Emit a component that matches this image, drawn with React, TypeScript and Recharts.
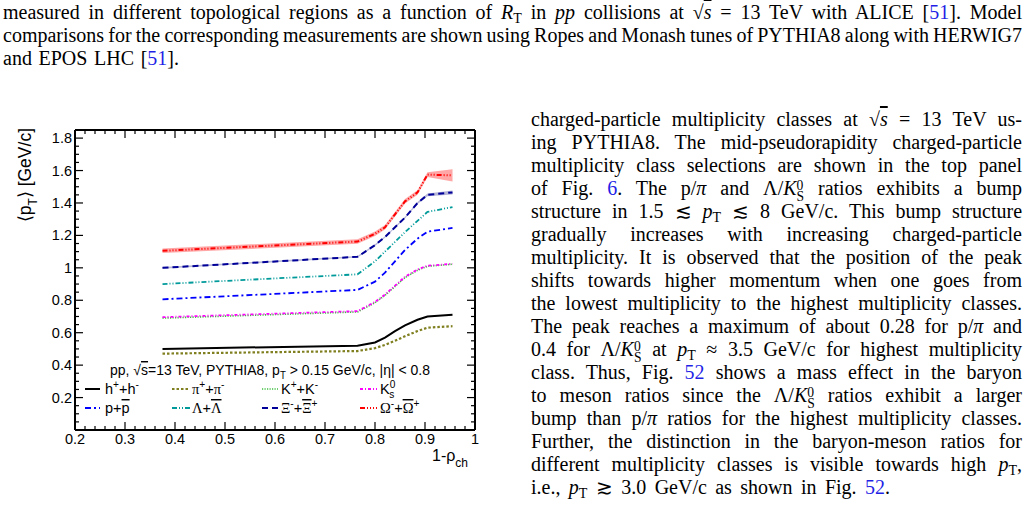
import React from 'react';
import { Area, ComposedChart, Legend, Line, XAxis, YAxis } from 'recharts';

// 1 - rho_ch for each multiplicity class point
const rho = [0.375, 0.765, 0.8, 0.82, 0.84, 0.86, 0.885, 0.905, 0.955];

// <pT> [GeV/c] for each species
const hadrons = [0.5, 0.52, 0.54, 0.57, 0.61, 0.645, 0.68, 0.7, 0.71];
const pions = [0.471, 0.487, 0.505, 0.525, 0.55, 0.578, 0.61, 0.631, 0.64];
const kaons = [0.69, 0.728, 0.785, 0.83, 0.885, 0.94, 0.985, 1.01, 1.022];
const k0s = [0.696, 0.733, 0.79, 0.835, 0.89, 0.945, 0.99, 1.013, 1.025];
const protons = [0.806, 0.864, 0.915, 0.97, 1.04, 1.11, 1.18, 1.223, 1.246];
const lambdas = [0.9, 0.96, 1.04, 1.1, 1.16, 1.22, 1.29, 1.345, 1.375];
const xis = [1.0, 1.068, 1.14, 1.19, 1.25, 1.31, 1.4, 1.45, 1.465];
const omegas = [1.105, 1.162, 1.21, 1.25, 1.33, 1.41, 1.465, 1.575, 1.57];

// half widths of the shaded uncertainty bands
const xiErr = [0.005, 0.005, 0.005, 0.005, 0.005, 0.005, 0.006, 0.008, 0.012];
const omegaErr = [0.014, 0.014, 0.014, 0.014, 0.014, 0.014, 0.014, 0.015, 0.038];

const xMajor = [0.2, 0.3, 0.4, 0.5, 0.6, 0.7, 0.8, 0.9, 1];
const yMajor = [0.2, 0.4, 0.6, 0.8, 1, 1.2, 1.4, 1.6, 1.8];

const xTicks: number[] = [];
for (let i = 0; i <= 40; i++) xTicks.push(Math.round((0.2 + i * 0.02) * 1000) / 1000);
const yTicks: number[] = [];
for (let i = 1; i <= 37; i++) yTicks.push(Math.round(i * 0.05 * 1000) / 1000);

const rows = rho.map((r, i) => ({
  rho: r,
  hadrons: hadrons[i],
  pions: pions[i],
  kaons: kaons[i],
  k0s: k0s[i],
  protons: protons[i],
  lambdas: lambdas[i],
  xis: xis[i],
  omegas: omegas[i],
  xiBand: [xis[i] - xiErr[i], xis[i] + xiErr[i]],
  omegaBand: [omegas[i] - omegaErr[i], omegas[i] + omegaErr[i]],
}));

const SANS = '"Liberation Sans", Arial, Helvetica, sans-serif';
const SERIF = '"Liberation Serif", "Times New Roman", serif';
const LINK = '#1f1fe6';

const SERIES: Record<string, { color: string; dash?: string; width: number }> = {
  hadrons: { color: '#000000', width: 2 },
  pions: { color: '#7f7f1f', dash: '2.5 2', width: 2.2 },
  kaons: { color: '#3fbf3f', dash: '1.2 1.3', width: 1.6 },
  k0s: { color: '#ff00ff', dash: '3 2 1 2', width: 1.8 },
  protons: { color: '#0000ff', dash: '6 3 2 3', width: 1.8 },
  lambdas: { color: '#009a9a', dash: '5 2 1 2 1 2', width: 1.8 },
  xis: { color: '#000099', dash: '6 4', width: 2 },
  omegas: { color: '#ff0000', dash: '5 2 1 2 1 2 1 2', width: 2 },
};
const DRAW_ORDER = ['pions', 'hadrons', 'kaons', 'k0s', 'protons', 'lambdas', 'xis', 'omegas'];

type Seg = [string, 'n' | 'sup' | 'sub' | 'back', { serif?: boolean; over?: boolean }?];
const LABELS: Record<string, Seg[]> = {
  hadrons: [['h', 'n'], ['+', 'sup'], ['+h', 'n'], ['-', 'sup']],
  pions: [['π', 'n', { serif: true }], ['+', 'sup'], ['+', 'n'], ['π', 'n', { serif: true }], ['-', 'sup']],
  kaons: [['K', 'n'], ['+', 'sup'], ['+K', 'n'], ['-', 'sup']],
  k0s: [['K', 'n'], ['0', 'sup'], ['s', 'back']],
  protons: [['p+', 'n'], ['p', 'n', { over: true }]],
  lambdas: [['Λ', 'n', { serif: true }], ['+', 'n'], ['Λ', 'n', { serif: true, over: true }]],
  xis: [['Ξ', 'n', { serif: true }], ['-', 'sup'], ['+', 'n'], ['Ξ', 'n', { serif: true, over: true }], ['+', 'sup']],
  omegas: [['Ω', 'n', { serif: true }], ['-', 'sup'], ['+', 'n'], ['Ω', 'n', { serif: true, over: true }], ['+', 'sup']],
};
const LEGEND_ROWS = [
  ['hadrons', 'pions', 'kaons', 'k0s'],
  ['protons', 'lambdas', 'xis', 'omegas'],
];
const COL_LINE = [[5, 20], [92, 110], [182, 198], [280, 297]];
const COL_TEXT = [25, 112, 201, 300];
const ROW_Y = [31, 50];

const isMajor = (v: number, list: number[]) => list.some((m) => Math.abs(m - v) < 1e-6);

const BottomTick = (props: any) => {
  const { x, y, payload } = props;
  const major = isMajor(payload.value, xMajor);
  return (
    <g>
      <line x1={x} x2={x} y1={y} y2={y - (major ? 8 : 4)} stroke="#000" strokeWidth={1.2} />
      {major && (
        <text x={x} y={y + 14} textAnchor="middle" fontSize={14.5} fontFamily={SANS} fill="#000">
          {String(payload.value)}
        </text>
      )}
    </g>
  );
};

const TopTick = (props: any) => {
  const { x, y, payload } = props;
  const major = isMajor(payload.value, xMajor);
  return <line x1={x} x2={x} y1={y} y2={y + (major ? 8 : 4)} stroke="#000" strokeWidth={1.2} />;
};

const LeftTick = (props: any) => {
  const { x, y, payload } = props;
  const major = isMajor(payload.value, yMajor);
  return (
    <g>
      <line x1={x} x2={x + (major ? 8 : 4)} y1={y} y2={y} stroke="#000" strokeWidth={1.2} />
      {major && (
        <text x={x - 3} y={y + 5} textAnchor="end" fontSize={14.5} fontFamily={SANS} fill="#000">
          {String(payload.value)}
        </text>
      )}
    </g>
  );
};

const RightTick = (props: any) => {
  const { x, y, payload } = props;
  const major = isMajor(payload.value, yMajor);
  return <line x1={x} x2={x - (major ? 8 : 4)} y1={y} y2={y} stroke="#000" strokeWidth={1.2} />;
};

const YTitle = (props: any) => {
  const vb = props.viewBox || { x: 74, y: 50, width: 1 };
  const x = vb.x + vb.width - 44;
  const y = vb.y - 2;
  return (
    <text x={x} y={y} transform={`rotate(-90 ${x} ${y})`} textAnchor="end" fontSize={17.5} fontFamily={SANS} fill="#000">
      <tspan>⟨p</tspan>
      <tspan dy={6} fontSize={12}>T</tspan>
      <tspan dy={-6}>⟩ [GeV/c]</tspan>
    </text>
  );
};

const XTitle = (props: any) => {
  const vb = props.viewBox || { x: 75, y: 350, width: 400 };
  const x = vb.x + vb.width - 7;
  const y = vb.y + 31;
  return (
    <text x={x} y={y} textAnchor="end" fontSize={16} fontFamily={SANS} fill="#000">
      <tspan>1-ρ</tspan>
      <tspan dy={6} fontSize={12}>ch</tspan>
    </text>
  );
};

const richText = (segs: Seg[], x: number, y: number, size: number) => (
  <text x={x} y={y} fontSize={size} fontFamily={SANS} fill="#000">
    {segs.map(([t, mode, opt], i) => {
      const small = mode !== 'n';
      const yy = mode === 'sup' ? y - 6 : mode === 'back' ? y + 4 : y;
      return (
        <tspan
          key={i}
          y={yy}
          dx={mode === 'back' ? -6 : 0}
          fontSize={small ? size * 0.7 : size}
          fontFamily={opt?.serif ? SERIF : SANS}
          style={opt?.over ? { textDecoration: 'overline' } : undefined}
        >
          {t}
        </tspan>
      );
    })}
  </text>
);

const renderLegend = () => (
  <svg width={380} height={64} style={{ overflow: 'visible', display: 'block' }}>
    <text x={30} y={17} fontSize={14.5} fontFamily={SANS} fill="#000" textLength={320} lengthAdjust="spacingAndGlyphs">
      <tspan>pp, √</tspan>
      <tspan style={{ textDecoration: 'overline' }}>s</tspan>
      <tspan>=13 TeV, PYTHIA8, p</tspan>
      <tspan dy={4} fontSize={10}>T</tspan>
      <tspan dy={-4}> &gt; 0.15 GeV/c, |η| &lt; 0.8</tspan>
    </text>
    {LEGEND_ROWS.map((row, r) =>
      row.map((key, c) => {
        const s = SERIES[key];
        return (
          <g key={key}>
            <line
              x1={COL_LINE[c][0]}
              x2={COL_LINE[c][1]}
              y1={ROW_Y[r]}
              y2={ROW_Y[r]}
              stroke={s.color}
              strokeWidth={s.width}
              strokeDasharray={s.dash}
            />
            {richText(LABELS[key], COL_TEXT[c], ROW_Y[r] + 5, 14.5)}
          </g>
        );
      }),
    )}
  </svg>
);

const Link = ({ children }: { children: React.ReactNode }) => <span style={{ color: LINK }}>{children}</span>;
const Sqs = () => (
  <span>
    √<span style={{ textDecoration: 'overline' }}><i>s</i></span>
  </span>
);
const Sub = ({ children }: { children: React.ReactNode }) => (
  <span style={{ fontSize: '0.7em', verticalAlign: '-0.3em', lineHeight: 0 }}>{children}</span>
);
const PT = () => (
  <span>
    <i>p</i>
    <Sub>T</Sub>
  </span>
);
const K0S = () => (
  <span>
    <i>K</i>
    <span
      style={{
        display: 'inline-flex',
        flexDirection: 'column',
        fontSize: '0.68em',
        lineHeight: '11px',
        height: 11,
        verticalAlign: '0.4em',
        overflow: 'visible',
      }}
    >
      <span>0</span>
      <span>S</span>
    </span>
  </span>
);

const TOP_LINES: React.ReactNode[] = [
  <>
    measured in different topological regions as a function of <i>R</i>
    <Sub>T</Sub> in <i>pp</i> collisions at <Sqs /> = 13 TeV with ALICE [<Link>51</Link>]. Model
  </>,
  <>comparisons for the corresponding measurements are shown using Ropes and Monash tunes of PYTHIA8 along with HERWIG7</>,
  <>
    and EPOS LHC [<Link>51</Link>].
  </>,
];
const TOP_WIDTHS = [1019, 1019, 176];

const RIGHT_LINES: React.ReactNode[] = [
  <>
    charged-particle multiplicity classes at <Sqs /> = 13 TeV us-
  </>,
  <>ing PYTHIA8. The mid-pseudorapidity charged-particle</>,
  <>multiplicity class selections are shown in the top panel</>,
  <>
    of Fig. <Link>6</Link>. The p/<i>π</i> and Λ/<K0S /> ratios exhibits a bump
  </>,
  <>
    structure in 1.5 ≲ <PT /> ≲ 8 GeV/c. This bump structure
  </>,
  <>gradually increases with increasing charged-particle</>,
  <>multiplicity. It is observed that the position of the peak</>,
  <>shifts towards higher momentum when one goes from</>,
  <>the lowest multiplicity to the highest multiplicity classes.</>,
  <>
    The peak reaches a maximum of about 0.28 for p/<i>π</i> and
  </>,
  <>
    0.4 for Λ/<K0S /> at <PT /> ≈ 3.5 GeV/c for highest multiplicity
  </>,
  <>
    class. Thus, Fig. <Link>52</Link> shows a mass effect in the baryon
  </>,
  <>
    to meson ratios since the Λ/<K0S /> ratios exhibit a larger
  </>,
  <>
    bump than p/<i>π</i> ratios for the highest multiplicity classes.
  </>,
  <>Further, the distinction in the baryon-meson ratios for</>,
  <>
    different multiplicity classes is visible towards high <PT />,
  </>,
  <>
    i.e., <PT /> ≳ 3.0 GeV/c as shown in Fig. <Link>52</Link>.
  </>,
];

const TextLine = ({
  top,
  left,
  width,
  children,
}: {
  top: number;
  left: number;
  width: number;
  children: React.ReactNode;
}) => (
  <div
    style={{
      position: 'absolute',
      top,
      left,
      width,
      height: 23,
      lineHeight: '23px',
      whiteSpace: 'nowrap',
      wordSpacing: -1,
      textAlign: 'justify',
      textAlignLast: 'justify',
    }}
  >
    {children}
  </div>
);

export default function App() {
  return (
    <div
      style={{
        position: 'absolute',
        left: 0,
        top: 0,
        width: 1029,
        height: 505,
        background: '#fff',
        overflow: 'hidden',
        fontFamily: SERIF,
        fontSize: 20,
        color: '#000',
      }}
    >
      {TOP_LINES.map((l, i) => (
        <TextLine key={i} top={1 + i * 23} left={3} width={TOP_WIDTHS[i]}>
          {l}
        </TextLine>
      ))}
      {RIGHT_LINES.map((l, i) => (
        <TextLine key={i} top={108 + i * 23} left={531} width={i === RIGHT_LINES.length - 1 ? 359 : 491}>
          {l}
        </TextLine>
      ))}

      <div style={{ position: 'absolute', left: 0, top: 80 }}>
        <ComposedChart width={520} height={425} data={rows} margin={{ top: 49, right: 44, bottom: 74, left: 74 }}>
          <XAxis
            dataKey="rho"
            type="number"
            domain={[0.2, 1]}
            allowDataOverflow
            ticks={xTicks}
            interval={0}
            height={1}
            tickSize={0}
            tickMargin={0}
            tickLine={false}
            tick={<BottomTick />}
            axisLine={{ stroke: '#000', strokeWidth: 2 }}
            label={<XTitle />}
          />
          <XAxis
            xAxisId="top"
            dataKey="rho"
            orientation="top"
            type="number"
            domain={[0.2, 1]}
            allowDataOverflow
            ticks={xTicks}
            interval={0}
            height={1}
            tickSize={0}
            tickMargin={0}
            tickLine={false}
            tick={<TopTick />}
            axisLine={{ stroke: '#000', strokeWidth: 2 }}
          />
          <YAxis
            type="number"
            domain={[0, 1.85]}
            allowDataOverflow
            ticks={yTicks}
            interval={0}
            width={1}
            tickSize={0}
            tickMargin={0}
            tickLine={false}
            tick={<LeftTick />}
            axisLine={{ stroke: '#000', strokeWidth: 2 }}
            label={<YTitle />}
          />
          <YAxis
            yAxisId="right"
            orientation="right"
            type="number"
            domain={[0, 1.85]}
            allowDataOverflow
            ticks={yTicks}
            interval={0}
            width={1}
            tickSize={0}
            tickMargin={0}
            tickLine={false}
            tick={<RightTick />}
            axisLine={{ stroke: '#000', strokeWidth: 2 }}
          />
          <Area
            xAxisId="top"
            yAxisId="right"
            dataKey="xiBand"
            stroke="none"
            fill="#5a5aa8"
            fillOpacity={0.45}
            isAnimationActive={false}
          />
          <Area
            xAxisId="top"
            yAxisId="right"
            dataKey="omegaBand"
            stroke="none"
            fill="#ff6a6a"
            fillOpacity={0.6}
            isAnimationActive={false}
          />
          {DRAW_ORDER.map((key) => (
            <Line
              key={key}
              dataKey={key}
              type="linear"
              stroke={SERIES[key].color}
              strokeWidth={SERIES[key].width}
              strokeDasharray={SERIES[key].dash}
              dot={false}
              activeDot={false}
              isAnimationActive={false}
            />
          ))}
          <Legend
            layout="horizontal"
            verticalAlign="middle"
            align="center"
            content={renderLegend}
            wrapperStyle={{ left: 80, top: 278, width: 380, height: 64 }}
          />
        </ComposedChart>
      </div>
    </div>
  );
}
